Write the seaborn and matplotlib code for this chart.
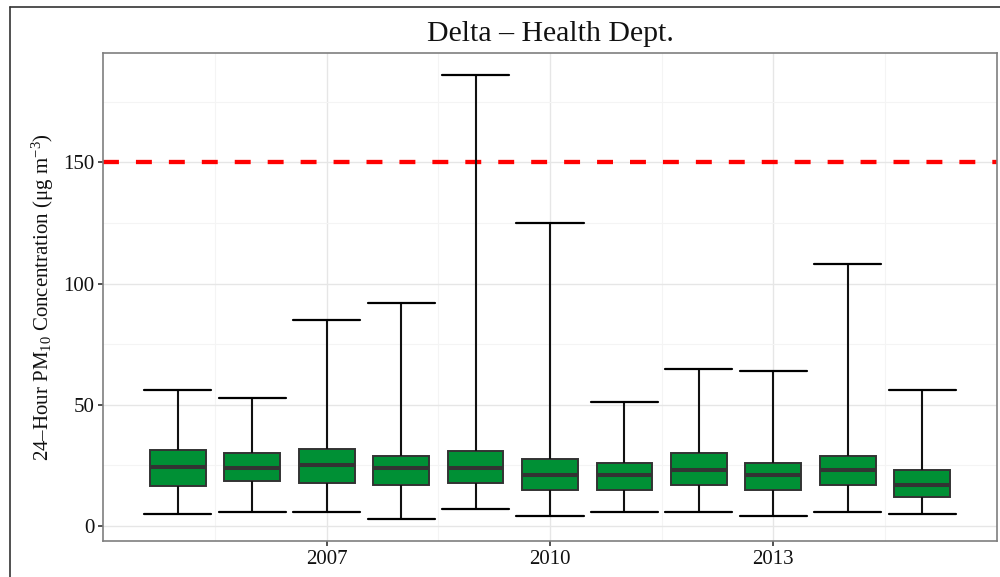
import numpy as np
import pandas as pd
import matplotlib
matplotlib.use("Agg")
import matplotlib.pyplot as plt
from matplotlib.lines import Line2D
import seaborn as sns

# ---- data ----
years = [2005, 2006, 2007, 2008, 2009, 2010, 2011, 2012, 2013, 2014, 2015]
min_vals = [5, 6, 6, 3, 7, 4, 6, 6, 4, 6, 5]
q1_vals = [16.7, 18.7, 17.9, 16.8, 17.9, 15.0, 15.0, 16.8, 15.0, 16.8, 12.0]
med_vals = [24.5, 24.0, 25.0, 24.0, 24.0, 21.1, 21.1, 23.1, 21.1, 23.1, 16.9]
q3_vals = [31.2, 30.1, 31.7, 28.9, 31.0, 27.8, 26.0, 30.0, 26.0, 28.9, 23.1]
max_vals = [56, 53, 85, 92, 186, 125, 51, 65, 64, 108, 56]
standard = 150
x_ticks = [2007, 2010, 2013]
y_ticks = [0, 50, 100, 150]
title = "Delta – Health Dept."
ylabel = "24–Hour PM$_{10}$ Concentration (μg m$^{-3}$)"

rows = []
for yr, a, b, c, d, e in zip(years, min_vals, q1_vals, med_vals, q3_vals, max_vals):
    for v in (a, b, c, d, e):
        rows.append({"year": yr, "conc": v})
df = pd.DataFrame(rows)

sns.set_theme(style="white")
plt.rcParams["font.family"] = ["Liberation Serif", "DejaVu Serif"]
plt.rcParams["mathtext.fontset"] = "custom"
plt.rcParams["mathtext.rm"] = "Liberation Serif"
plt.rcParams["mathtext.it"] = "Liberation Serif:italic"
plt.rcParams["mathtext.default"] = "regular"

fig = plt.figure(figsize=(10, 5.77), dpi=100)
fig.patch.set_facecolor("white")
ax = fig.add_axes([0.1033, 0.0624, 0.8934, 0.8457])

ax.axhline(standard, color="#ff0000", lw=3.1, dashes=(3.7, 3.95), zorder=1.5)

sns.boxplot(
    data=df, x="year", y="conc", native_scale=True, whis=(0, 100),
    width=0.75, color="#009035", saturation=1, linecolor="#333333",
    linewidth=1.4, showfliers=False, ax=ax, capwidths=0.9,
    medianprops={"linewidth": 2.9, "color": "#333333"},
    whiskerprops={"color": "#111111", "linewidth": 1.5},
    capprops={"color": "#000000", "linewidth": 1.6},
)

ax.set_xlim(2004.0, 2016.0)
ax.set_ylim(-6.15, 195.15)
ax.set_xticks(x_ticks)
ax.set_xticklabels([str(t) for t in x_ticks])
ax.set_yticks(y_ticks)
ax.set_yticklabels([str(t) for t in y_ticks])
ax.set_xticks([2005.5, 2008.5, 2011.5, 2014.5], minor=True)
ax.set_yticks([25, 75, 125, 175], minor=True)
ax.set_axisbelow(True)
ax.grid(which="major", color="#e6e6e6", linewidth=1.0)
ax.grid(which="minor", color="#f4f4f4", linewidth=0.8)
ax.tick_params(which="major", length=3.5, width=1.2, color="#333333",
               labelsize=15, labelcolor="#111111", pad=3, bottom=True, left=True)
ax.tick_params(which="minor", length=0)
for s in ax.spines.values():
    s.set_color("#7f7f7f")
    s.set_linewidth(1.2)

ax.set_xlabel("")
ax.set_ylabel(ylabel, fontsize=15, color="#111111")
ax.yaxis.set_label_coords(-0.053, 0.5)

fig.text(0.55, 1 - 41 / 577, title, ha="center", va="baseline", fontsize=21.5, color="#111111")

# outer border (cropped at right and bottom)
fig.add_artist(Line2D([0.01, 1.0], [1 - 7 / 577, 1 - 7 / 577], transform=fig.transFigure,
                      color="#333333", lw=1.2))
fig.add_artist(Line2D([0.01, 0.01], [0.0, 1 - 7 / 577], transform=fig.transFigure,
                      color="#333333", lw=1.2))

fig.savefig("out.png", dpi=100)
